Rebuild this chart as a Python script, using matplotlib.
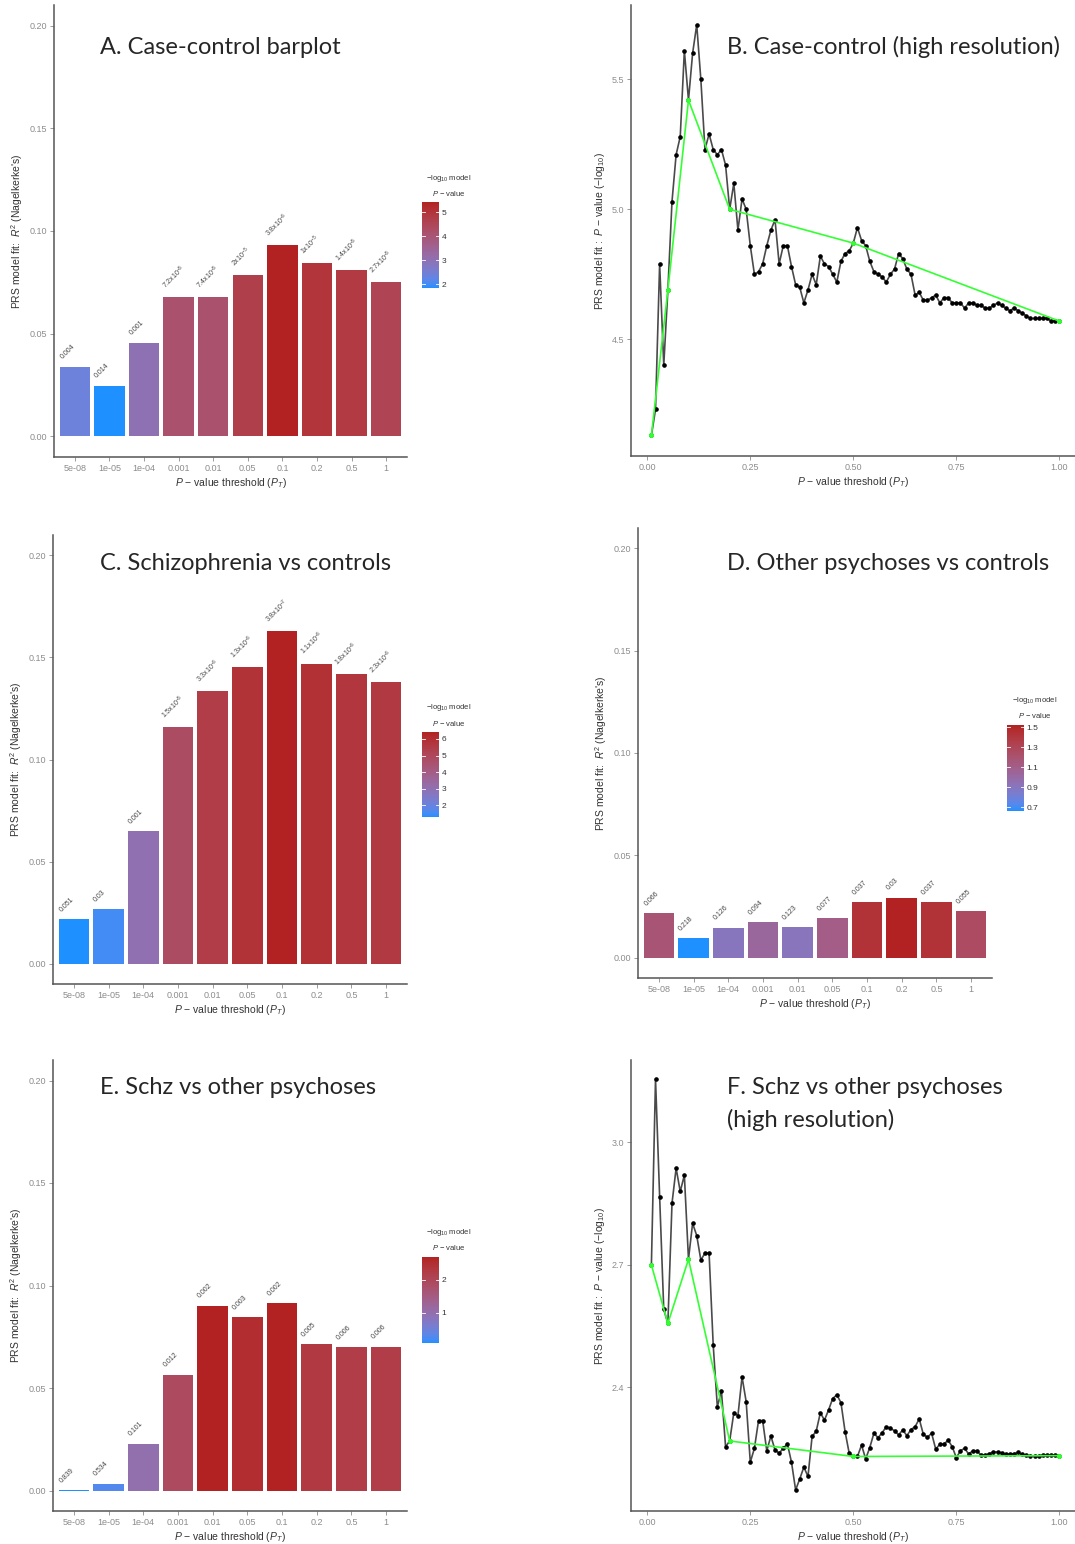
import numpy as np
import matplotlib
matplotlib.use('Agg')
import matplotlib.pyplot as plt
from matplotlib.colors import ListedColormap, Normalize, to_rgb
from matplotlib.cm import ScalarMappable

plt.rcParams['font.family'] = ['Liberation Sans', 'DejaVu Sans']
plt.rcParams['mathtext.fontset'] = 'custom'
plt.rcParams['mathtext.rm'] = 'Liberation Sans'
plt.rcParams['mathtext.it'] = 'Liberation Sans:italic'

# ---- data ----
thresholds = ['5e-08', '1e-05', '1e-04', '0.001', '0.01', '0.05', '0.1', '0.2', '0.5', '1']

# A. case-control
r2_a = [0.034, 0.0247, 0.0455, 0.0678, 0.0678, 0.0785, 0.0933, 0.0842, 0.0811, 0.0751]
p_a = [0.004, 0.014, 0.001, 7.2e-5, 7.4e-5, 2e-5, 3.8e-6, 1e-5, 1.4e-5, 2.7e-5]
# C. schizophrenia vs controls
r2_c = [0.0218, 0.0267, 0.0649, 0.1157, 0.1334, 0.1452, 0.163, 0.147, 0.142, 0.1378]
p_c = [0.051, 0.03, 0.001, 1.5e-5, 3.3e-6, 1.3e-6, 3.8e-7, 1.1e-6, 1.8e-6, 2.3e-6]
# D. other psychoses vs controls
r2_d = [0.0216, 0.0094, 0.0145, 0.0172, 0.0148, 0.0192, 0.027, 0.0293, 0.027, 0.0226]
p_d = [0.066, 0.218, 0.126, 0.094, 0.123, 0.077, 0.037, 0.03, 0.037, 0.055]
# E. schz vs other psychoses
r2_e = [0.0002, 0.0032, 0.0227, 0.0565, 0.0901, 0.0844, 0.0914, 0.0714, 0.0698, 0.0701]
p_e = [0.839, 0.534, 0.101, 0.012, 0.002, 0.003, 0.002, 0.005, 0.006, 0.006]

# high resolution thresholds (0.01 .. 1.00)
hr_x = np.round(np.arange(1, 101) * 0.01, 2)
hr_b = [4.13, 4.23, 4.79, 4.40, 4.69, 5.03, 5.21, 5.28, 5.61, 5.42,
        5.60, 5.71, 5.50, 5.23, 5.29, 5.23, 5.21, 5.23, 5.17, 5.00,
        5.10, 4.92, 5.04, 5.00, 4.86, 4.75, 4.76, 4.79, 4.86, 4.92,
        4.96, 4.79, 4.86, 4.86, 4.78, 4.71, 4.70, 4.64, 4.69, 4.75,
        4.71, 4.82, 4.79, 4.78, 4.75, 4.72, 4.80, 4.83, 4.84, 4.87,
        4.93, 4.88, 4.86, 4.80, 4.76, 4.75, 4.74, 4.72, 4.75, 4.77,
        4.83, 4.81, 4.77, 4.75, 4.67, 4.68, 4.65, 4.65, 4.66, 4.67,
        4.64, 4.66, 4.66, 4.64, 4.64, 4.64, 4.62, 4.64, 4.64, 4.63,
        4.63, 4.62, 4.62, 4.63, 4.64, 4.63, 4.62, 4.61, 4.62, 4.61,
        4.60, 4.59, 4.58, 4.58, 4.58, 4.58, 4.58, 4.57, 4.57, 4.57]
hr_f = [2.700, 3.155, 2.867, 2.591, 2.557, 2.851, 2.937, 2.880, 2.920, 2.714,
        2.802, 2.772, 2.712, 2.729, 2.729, 2.504, 2.353, 2.391, 2.255, 2.269,
        2.338, 2.331, 2.426, 2.365, 2.217, 2.251, 2.319, 2.319, 2.245, 2.281,
        2.247, 2.239, 2.251, 2.262, 2.217, 2.149, 2.176, 2.205, 2.182, 2.280,
        2.293, 2.338, 2.320, 2.345, 2.373, 2.382, 2.363, 2.292, 2.239, 2.231,
        2.231, 2.259, 2.225, 2.253, 2.288, 2.277, 2.289, 2.304, 2.300, 2.294,
        2.284, 2.296, 2.282, 2.297, 2.304, 2.323, 2.285, 2.278, 2.288, 2.249,
        2.261, 2.261, 2.271, 2.255, 2.228, 2.245, 2.251, 2.237, 2.245, 2.245,
        2.234, 2.234, 2.238, 2.242, 2.242, 2.240, 2.236, 2.237, 2.238, 2.241,
        2.236, 2.234, 2.232, 2.232, 2.232, 2.234, 2.234, 2.234, 2.234, 2.233]
std_x = [0.01, 0.05, 0.1, 0.2, 0.5, 1.0]
std_b = [4.13, 4.69, 5.42, 5.00, 4.87, 4.57]
std_f = [2.700, 2.557, 2.714, 2.269, 2.231, 2.233]

# ---- colour scale: dodgerblue -> firebrick, interpolated in Lab like ggplot ----
M = np.array([[0.4124, 0.3576, 0.1805], [0.2126, 0.7152, 0.0722], [0.0193, 0.1192, 0.9505]])
WHITE = np.array([0.95047, 1.0, 1.08883])


def to_lab(c):
    rgb = np.array(to_rgb(c))
    lin = np.where(rgb <= 0.04045, rgb / 12.92, ((rgb + 0.055) / 1.055) ** 2.4)
    xyz = M @ lin / WHITE
    f = np.where(xyz > 0.008856, np.cbrt(xyz), 7.787 * xyz + 16 / 116)
    return np.array([116 * f[1] - 16, 500 * (f[0] - f[1]), 200 * (f[1] - f[2])])


def from_lab(lab):
    fy = (lab[:, 0] + 16) / 116
    f = np.stack([fy + lab[:, 1] / 500, fy, fy - lab[:, 2] / 200], -1)
    xyz = np.where(f ** 3 > 0.008856, f ** 3, (f - 16 / 116) / 7.787) * WHITE
    lin = np.clip(xyz @ np.linalg.inv(M).T, 0, None)
    rgb = np.where(lin <= 0.0031308, 12.92 * lin, 1.055 * lin ** (1 / 2.4) - 0.055)
    return np.clip(rgb, 0, 1)


lo, hi = to_lab('#1E90FF'), to_lab('#B22222')
t = np.linspace(0, 1, 256)[:, None]
cmap = ListedColormap(from_lab(lo + t * (hi - lo)))

W, H = 1075, 1544
fig = plt.figure(figsize=(W / 100, H / 100), dpi=100)


def px(l, t, r, b):
    return [l / W, 1 - b / H, (r - l) / W, (b - t) / H]


TICK_C = '#8c8c8c'
TEXT_C = '#333333'
AXIS_C = '#555555'


def style(ax):
    for s in ['top', 'right']:
        ax.spines[s].set_visible(False)
    for s in ['left', 'bottom']:
        ax.spines[s].set_color(AXIS_C)
        ax.spines[s].set_linewidth(1.1)
    ax.tick_params(length=3, width=0.6, color=TICK_C, labelcolor=TICK_C, labelsize=6.5, pad=2)
    ax.set_xlabel('$P$ − value threshold ($P_T$)', fontsize=7.5, color=TEXT_C, labelpad=2)


def fmt_p(p):
    if p < 0.001:
        m, e = f'{p:.1e}'.split('e')
        m = m.rstrip('0').rstrip('.')
        return m + 'x10$^{' + str(int(e)) + '}$'
    return str(p)


def bar_panel(rect, r2, pvals, title, title_xy, cb_rect, cb_ticks, cb_fmt, cb_title_xy):
    ax = fig.add_axes(px(*rect))
    vals = -np.log10(np.array(pvals))
    norm = Normalize(vals.min(), vals.max())
    x = np.arange(1, len(thresholds) + 1)
    ax.bar(x, r2, width=0.88, color=cmap(norm(vals)), edgecolor='none')
    for xi, h, p in zip(x, r2, pvals):
        ax.text(xi - 0.32, h + 0.003, fmt_p(p), rotation=45, rotation_mode='anchor',
                ha='left', va='bottom', fontsize=5, color='#444444')
    ax.set_xlim(0.4, 10.6)
    ax.set_ylim(-0.01, 0.21)
    ax.set_xticks(x)
    ax.set_xticklabels(thresholds)
    ax.set_yticks([0, 0.05, 0.10, 0.15, 0.20])
    ax.set_yticklabels(['0.00', '0.05', '0.10', '0.15', '0.20'])
    style(ax)
    ax.set_ylabel("PRS model fit:  $R^2$ (Nagelkerke's)", fontsize=7.5, color=TEXT_C, labelpad=3)
    fig.text(title_xy[0] / W, 1 - title_xy[1] / H, title, fontsize=17, family='Lato',
             color='#262626', ha='left', va='center')
    # colour bar legend
    cax = fig.add_axes(px(*cb_rect))
    cb = fig.colorbar(ScalarMappable(norm=norm, cmap=cmap), cax=cax, ticks=cb_ticks, format=cb_fmt)
    cb.outline.set_visible(False)
    cax.tick_params(length=0, labelsize=6, pad=2, labelcolor=TEXT_C)
    for tk in cb_ticks:
        cax.axhline(tk, 0, 0.2, color='white', lw=0.6)
        cax.axhline(tk, 0.8, 1, color='white', lw=0.6)
    cx, cy = cb_title_xy
    fig.text(cx / W, 1 - cy / H, '−log$_{10}$ model', fontsize=5.5, color=TEXT_C, ha='center', va='center')
    fig.text(cx / W, 1 - (cy + 16) / H, '$P$ − value', fontsize=5.5, color=TEXT_C, ha='center', va='center')
    return ax


def line_panel(rect, y, gy, ylim, yticks, title_lines, title_xy):
    ax = fig.add_axes(px(*rect))
    ax.plot(hr_x, y, color='#4a4a4a', lw=1.2, marker='o', ms=2.3, mfc='black', mec='black', zorder=2)
    ax.plot(std_x, gy, color='#33ff33', lw=1.2, marker='o', ms=2.6, zorder=3)
    ax.set_xlim(-0.0395, 1.038)
    ax.set_ylim(*ylim)
    ax.set_xticks([0, 0.25, 0.5, 0.75, 1.0])
    ax.set_xticklabels(['0.00', '0.25', '0.50', '0.75', '1.00'])
    ax.set_yticks(yticks)
    ax.set_yticklabels([f'{v:.1f}' for v in yticks])
    style(ax)
    ax.set_ylabel('PRS model fit :  $P$ − value (−log$_{10}$)', fontsize=7.5, color=TEXT_C, labelpad=3)
    for i, line in enumerate(title_lines):
        fig.text(title_xy[0] / W, 1 - (title_xy[1] + 32 * i) / H, line, fontsize=17, family='Lato',
                 color='#262626', ha='left', va='center')
    return ax


bar_panel((54, 5, 407, 457), r2_a, p_a, 'A. Case-control barplot', (100, 47),
          (422, 202, 439, 288), [2, 3, 4, 5], '%d', (449, 178))
line_panel((631, 5, 1075, 456), hr_b, std_b, (4.051, 5.786), [4.5, 5.0, 5.5],
           ['B. Case-control (high resolution)'], (727, 47))
bar_panel((53, 535, 407, 984), r2_c, p_c, 'C. Schizophrenia vs controls', (100, 563),
          (422, 732, 439, 817), [2, 3, 4, 5, 6], '%d', (449, 707))
bar_panel((638, 528, 992, 978), r2_d, p_d, 'D. Other psychoses vs controls', (727, 563),
          (1007, 725, 1024, 811), [0.7, 0.9, 1.1, 1.3, 1.5], '%.1f', (1035, 700))
bar_panel((53, 1060, 407, 1511), r2_e, p_e, 'E. Schz vs other psychoses', (100, 1088),
          (422, 1257, 439, 1343), [1, 2], '%d', (449, 1232))
line_panel((631, 1060, 1075, 1511), hr_f, std_f, (2.0975, 3.202), [2.4, 2.7, 3.0],
           ['F. Schz vs other psychoses', '(high resolution)'], (727, 1088))

fig.savefig('out.png', dpi=100)
